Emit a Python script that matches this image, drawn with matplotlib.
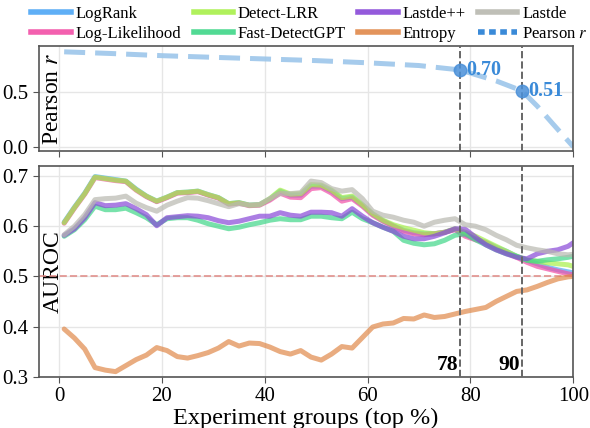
import matplotlib
matplotlib.use("Agg")
import matplotlib.pyplot as plt
from matplotlib.lines import Line2D

plt.rcParams['font.family'] = ['Liberation Serif', 'DejaVu Serif']
plt.rcParams['mathtext.fontset'] = 'stix'

# x positions (top % of experiment groups)
groups = [1, 3, 5, 7, 9, 11, 13, 15, 17, 19, 21, 23, 25, 27, 29, 31, 33, 35, 37, 39,
          41, 43, 45, 47, 49, 51, 53, 55, 57, 59, 61, 63, 65, 67, 69, 71, 73, 75, 77, 79,
          81, 83, 85, 87, 89, 91, 93, 95, 97, 99, 100]

detect_lrr = [0.607, 0.637, 0.665, 0.698, 0.695, 0.692, 0.690, 0.673, 0.660, 0.650,
              0.658, 0.667, 0.668, 0.670, 0.663, 0.657, 0.645, 0.647, 0.642, 0.643,
              0.655, 0.672, 0.664, 0.665, 0.683, 0.682, 0.672, 0.657, 0.660, 0.643,
              0.625, 0.612, 0.603, 0.597, 0.592, 0.587, 0.585, 0.588, 0.595, 0.588,
              0.580, 0.570, 0.560, 0.550, 0.540, 0.533, 0.530, 0.527, 0.525, 0.523, 0.520]

log_rank = [0.608, 0.638, 0.666, 0.699, 0.696, 0.693, 0.690, 0.674, 0.660, 0.650,
            0.658, 0.667, 0.668, 0.670, 0.663, 0.657, 0.645, 0.647, 0.642, 0.643,
            0.654, 0.670, 0.662, 0.662, 0.680, 0.680, 0.670, 0.655, 0.658, 0.642,
            0.624, 0.611, 0.601, 0.592, 0.587, 0.585, 0.585, 0.588, 0.594, 0.583,
            0.575, 0.568, 0.558, 0.550, 0.540, 0.532, 0.525, 0.518, 0.513, 0.509, 0.507]

log_likelihood = [0.606, 0.636, 0.664, 0.697, 0.694, 0.691, 0.689, 0.672, 0.659, 0.649,
                  0.657, 0.666, 0.667, 0.669, 0.662, 0.656, 0.644, 0.646, 0.641, 0.642,
                  0.652, 0.666, 0.658, 0.657, 0.675, 0.677, 0.666, 0.650, 0.655, 0.640,
                  0.622, 0.610, 0.600, 0.590, 0.585, 0.583, 0.585, 0.588, 0.593, 0.580,
                  0.573, 0.567, 0.555, 0.547, 0.538, 0.528, 0.520, 0.515, 0.510, 0.505, 0.503]

fast_detectgpt = [0.580, 0.593, 0.613, 0.640, 0.633, 0.633, 0.636, 0.627, 0.617, 0.603,
                  0.615, 0.617, 0.617, 0.612, 0.605, 0.600, 0.595, 0.598, 0.603, 0.607,
                  0.612, 0.615, 0.613, 0.613, 0.620, 0.620, 0.617, 0.615, 0.628, 0.615,
                  0.607, 0.598, 0.590, 0.572, 0.566, 0.563, 0.565, 0.572, 0.582, 0.585,
                  0.573, 0.563, 0.553, 0.545, 0.540, 0.532, 0.530, 0.533, 0.535, 0.538, 0.540]

lastde_pp = [0.582, 0.595, 0.617, 0.647, 0.641, 0.642, 0.645, 0.635, 0.623, 0.601,
             0.617, 0.619, 0.621, 0.620, 0.617, 0.611, 0.607, 0.610, 0.615, 0.620,
             0.620, 0.627, 0.622, 0.620, 0.628, 0.628, 0.627, 0.620, 0.635, 0.620,
             0.607, 0.598, 0.590, 0.580, 0.575, 0.575, 0.580, 0.587, 0.595, 0.594,
             0.578, 0.563, 0.553, 0.545, 0.538, 0.535, 0.545, 0.550, 0.553, 0.560, 0.567]

lastde = [0.583, 0.600, 0.623, 0.653, 0.655, 0.656, 0.660, 0.646, 0.637, 0.630,
          0.642, 0.650, 0.657, 0.656, 0.651, 0.645, 0.639, 0.645, 0.642, 0.643,
          0.655, 0.665, 0.665, 0.667, 0.690, 0.687, 0.675, 0.670, 0.673, 0.655,
          0.630, 0.622, 0.618, 0.612, 0.608, 0.600, 0.608, 0.612, 0.615, 0.603,
          0.600, 0.593, 0.582, 0.573, 0.562, 0.557, 0.553, 0.550, 0.545, 0.543, 0.544]

entropy = [0.395, 0.377, 0.355, 0.318, 0.313, 0.310, 0.322, 0.334, 0.343, 0.358,
           0.352, 0.340, 0.337, 0.342, 0.348, 0.357, 0.370, 0.361, 0.367, 0.366,
           0.359, 0.350, 0.345, 0.352, 0.339, 0.333, 0.345, 0.360, 0.357, 0.378,
           0.399, 0.405, 0.407, 0.416, 0.415, 0.423, 0.418, 0.420, 0.425, 0.430,
           0.434, 0.438, 0.450, 0.460, 0.470, 0.473, 0.480, 0.488, 0.495, 0.499, 0.500]

pearson_x = [1, 10, 20, 30, 40, 50, 60, 70, 78, 85, 90, 93, 96, 100]
pearson_r = [0.865, 0.85, 0.83, 0.815, 0.80, 0.785, 0.765, 0.74, 0.70, 0.60, 0.51, 0.37, 0.21, 0.0]

marks = [78, 90]
mark_r = [0.70, 0.51]

series = [
    ("LogRank", log_rank, "#4da6f5"),
    ("Log-Likelihood", log_likelihood, "#f24fa6"),
    ("Detect-LRR", detect_lrr, "#a8f04a"),
    ("Fast-DetectGPT", fast_detectgpt, "#3fd688"),
    ("Lastde++", lastde_pp, "#8848d8"),
    ("Entropy", entropy, "#e0894a"),
    ("Lastde", lastde, "#b8b8b0"),
]
pearson_color = "#3a8ad8"

fig = plt.figure(figsize=(5.9, 4.28), dpi=100)
ax_r = fig.add_axes([0.0656, 0.647, 0.906, 0.246])
ax = fig.add_axes([0.0656, 0.12, 0.906, 0.492])

for a in (ax_r, ax):
    a.grid(True, color="#e6e6e6", lw=1.0)
    a.set_axisbelow(True)
    for s in a.spines.values():
        s.set_color("#555555")
        s.set_linewidth(1.2)
    a.tick_params(labelsize=15, length=4, color="#555555")
    a.set_xlim(-3.95, 100)
    a.set_xticks([0, 20, 40, 60, 80, 100])
    for m in marks:
        a.axvline(m, color="#666666", ls="--", lw=1.4, zorder=5)

# Pearson r panel
ax_r.plot(pearson_x, pearson_r, color="#9cc6ea", lw=3.6, ls=(0, (4.2, 2.0)), alpha=0.9)
ax_r.plot(marks, mark_r, 'o', color="#4a90d9", ms=9, alpha=0.85, zorder=6)
for m, r in zip(marks, mark_r):
    ax_r.text(m + 1.2, r, f"{r:.2f}", color=pearson_color, fontsize=14.5,
              fontweight="bold", ha="left", va="center", zorder=7)
ax_r.set_ylim(-0.04, 0.92)
ax_r.set_yticks([0.0, 0.5])
ax_r.set_xticklabels([])
ax_r.set_ylabel("Pearson $r$", fontsize=17)
ax_r.yaxis.set_label_coords(0.046, 0.5)

# AUROC panel
for name, vals, col in series:
    ax.plot(groups, vals, color=col, lw=3.6, alpha=0.7, solid_capstyle="round")
ax.axhline(0.5, color="#e08a86", ls="--", lw=1.4, alpha=0.8, zorder=1)
ax.set_ylim(0.3, 0.72)
ax.set_yticks([0.3, 0.4, 0.5, 0.6, 0.7])
ax.set_ylabel("AUROC", fontsize=17)
ax.yaxis.set_label_coords(0.046, 0.5)
ax.set_xlabel("Experiment groups (top %)", fontsize=17.5, labelpad=1)
for m in marks:
    ax.text(m - 0.3, 0.304, str(m), fontsize=15.5, fontweight="bold",
            ha="right", va="bottom", zorder=7)

handles = [Line2D([], [], color=col, lw=4, alpha=0.9) for _, _, col in series]
labels = [name for name, _, _ in series]
handles.append(Line2D([], [], color=pearson_color, lw=4, ls=(0, (1.2, 0.8))))
labels.append("Pearson $r$")
fig.legend(handles, labels, loc="upper center", bbox_to_anchor=(0.525, 1.01), ncol=4,
           frameon=False, fontsize=12, handlelength=2.35, handletextpad=0.3,
           columnspacing=0.75, labelspacing=0.25, borderaxespad=0.2)

fig.savefig("out.png", dpi=100)
